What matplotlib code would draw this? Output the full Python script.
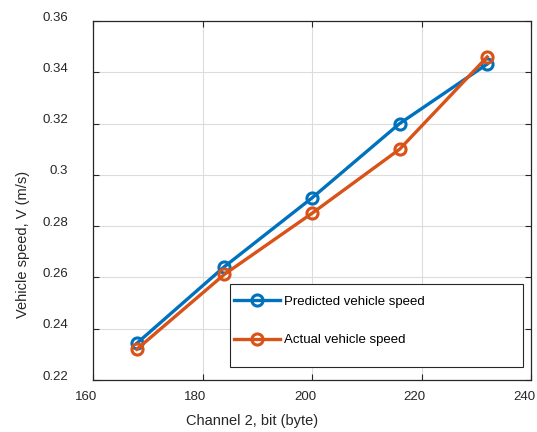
import matplotlib.pyplot as plt
from matplotlib.patches import Rectangle
from matplotlib.transforms import ScaledTranslation

# channel 2 reading vs. vehicle speed
channel_bits = [168, 184, 200, 216, 232]
predicted_speed = [0.2343, 0.2642, 0.2910, 0.3200, 0.3432]
actual_speed = [0.2320, 0.2612, 0.2850, 0.3100, 0.3460]

xtick_vals = [160, 180, 200, 220, 240]
ytick_vals = [0.22, 0.24, 0.26, 0.28, 0.3, 0.32, 0.34, 0.36]
ytick_text = ['0.22', '0.24', '0.26', '0.28', '0.3', '0.32', '0.34', '0.36']

blue = '#0072BD'
orange = '#D95319'
dark = '#262626'

plt.rcParams['font.family'] = 'Liberation Sans'

fig = plt.figure(figsize=(5.37, 4.32), dpi=100)
ax = fig.add_axes([93/537, 52/432, 438/537, 359/432])

ax.plot(channel_bits, predicted_speed, color=blue, lw=2.4, marker='o',
        ms=8, mfc='none', mew=2.2, label='Predicted vehicle speed')
ax.plot(channel_bits, actual_speed, color=orange, lw=2.4, marker='o',
        ms=8, mfc='none', mew=2.2, label='Actual vehicle speed')

ax.set_xlim(160, 240)
ax.set_ylim(0.22, 0.36)
ax.set_xticks(xtick_vals)
ax.set_yticks(ytick_vals)
ax.set_yticklabels(ytick_text)
ax.grid(True, color='#dcdcdc', lw=0.8)
ax.set_axisbelow(True)
ax.tick_params(direction='in', length=4, width=0.8, colors=dark, labelsize=9.5,
               top=True, right=True)
ax.tick_params(axis='x', pad=8)
ax.tick_params(axis='y', pad=18)
for s in ax.spines.values():
    s.set_color(dark)
    s.set_linewidth(0.9)

ax.set_xlabel('Channel 2, bit (byte)', fontsize=10.5, color=dark, va='top')
ax.set_ylabel('Vehicle speed, V (m/s)', fontsize=10.5, color=dark)
ax.xaxis.set_label_coords(0.363, -0.095)
ax.yaxis.set_label_coords(-0.144, 0.379)

# legend box drawn separately so the padding can be uneven
ax.add_patch(Rectangle((0.313, 0.036), 0.669, 0.231, transform=ax.transAxes,
                       fill=True, facecolor='white', edgecolor=dark, lw=0.8,
                       zorder=5))
leg = ax.legend(loc='upper left', bbox_to_anchor=(0.322, 0.236), frameon=False,
                fontsize=9.5, handlelength=3.5, handletextpad=0.25,
                labelspacing=2.0, borderpad=0, borderaxespad=0)
leg.set_zorder(6)

# nudge tick labels
dx = ScaledTranslation(-7/100, 0, fig.dpi_scale_trans)
dy = ScaledTranslation(0, 5/100, fig.dpi_scale_trans)
fig.canvas.draw()
for lab in ax.get_xticklabels():
    lab.set_transform(lab.get_transform() + dx)
for lab in ax.get_yticklabels():
    lab.set_transform(lab.get_transform() + dy)

fig.savefig('out.png', dpi=100)
